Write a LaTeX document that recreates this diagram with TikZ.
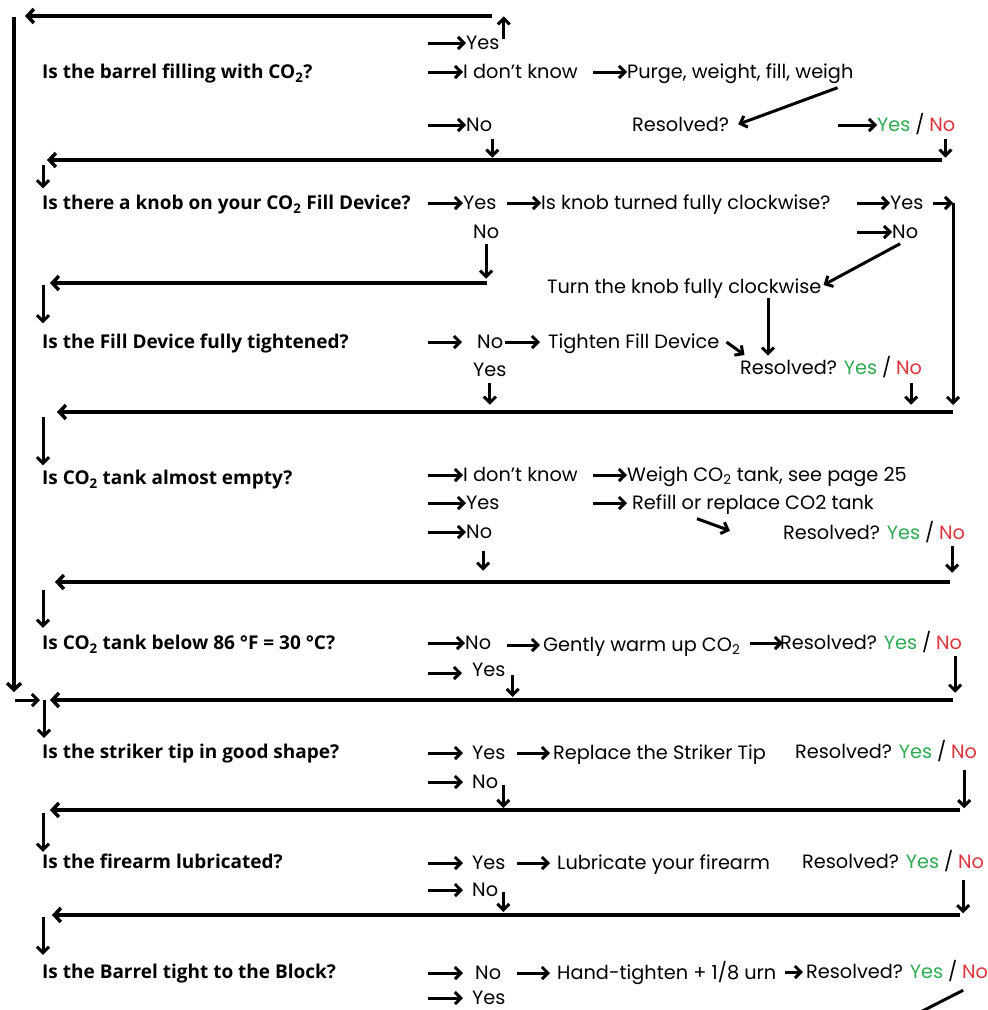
\documentclass[tikz,border=0pt]{standalone}
\usepackage{fontspec}
\setmainfont{Poppins}
\newfontfamily\qfont{Open Sans}
\usetikzlibrary{arrows.meta}
\definecolor{yesgreen}{RGB}{46,170,84}
\definecolor{nored}{RGB}{222,52,62}
\newcommand{\yn}{\textcolor{yesgreen}{Yes}\hspace{0.25em}/\hspace{0.25em}\textcolor{nored}{No}}
\newcommand{\COtwo}{CO\textsubscript{2}}
\tikzset{
  quest/.style={font=\qfont\bfseries\fontsize{19}{21}\selectfont, anchor=west, inner sep=0pt, text height=13pt, text depth=0pt},
  answer/.style={font=\fontsize{19.3}{21}\selectfont, anchor=west, inner sep=0pt, text height=13pt, text depth=0pt},
  arr/.style={line width=3pt, -{Straight Barb[length=6pt,width=12pt]}},
  backline/.style={line width=3.5pt, -{Straight Barb[length=6.5pt,width=14pt]}}
}
\begin{document}
\begin{tikzpicture}[x=1pt,y=-1pt]
\useasboundingbox (0,0) rectangle (988,1010);

% barrel filling
\node (q1) [quest] at (42,72) {Is the barrel filling with \COtwo?};
\node (q1yes) [answer] at (466,43) {Yes};
\node (q1idk) [answer] at (463,72) {I don’t know};
\node (q1no) [answer] at (466,125) {No};
\node (purge) [answer] at (627,72) {Purge, weight, fill, weigh};
\node (res1) [answer] at (632,125) {Resolved?};
\node (yn1) [answer] at (877,125) {\yn};
\coordinate (top) at (492,16);
\coordinate (topend) at (25,16);
\coordinate (lefttop) at (14,17);
\coordinate (leftbot) at (14,692);
\draw[backline] (top) -- (topend);
\draw[backline] (lefttop) -- (leftbot);
\draw[arr] ([xshift=-38pt]q1yes.west) -- (q1yes.west);
\draw[arr] ([xshift=-35pt]q1idk.west) -- (q1idk.west);
\draw[arr] ([xshift=-38pt]q1no.west) -- (q1no.west);
\draw[arr] ([xshift=4pt,yshift=-3pt]q1yes.north east) -- ++(0,-23);
\draw[arr] ([xshift=-34pt]purge.west) -- (purge.west);
\draw[arr] ([xshift=-16pt,yshift=-9pt]purge.south east) -- ([xshift=9pt,yshift=-6pt]res1.north east);
\draw[arr] ([xshift=-39pt]yn1.west) -- (yn1.west);
\draw[arr] ([yshift=-7pt]q1no.south east) -- ++(0,19);
\draw[arr] ([xshift=-10pt,yshift=-7pt]yn1.south east) -- ++(0,19);
\coordinate (back1r) at (942,160);
\coordinate (back1l) at (47,160);
\draw[backline] (back1r) -- (back1l);

% knob
\node (q2) [quest] at (42,203) {Is there a knob on your \COtwo{} Fill Device?};
\node (q2yes) [answer] at (463,203) {Yes};
\node (q2no) [answer] at (473,232) {No};
\node (knob) [answer] at (541,203) {Is knob turned fully clockwise?};
\node (knobyes) [answer] at (890,203) {Yes};
\node (knobno) [answer] at (892,232) {No};
\node (turn) [answer] at (547,287) {Turn the knob fully clockwise};
\coordinate (rightdrop) at (953,203);
\draw[arr] ([xshift=1pt,yshift=31pt]q2.north west) -- ++(0,23);
\draw[arr] ([xshift=-35pt]q2yes.west) -- (q2yes.west);
\draw[arr] ([xshift=-34pt]knob.west) -- (knob.west);
\draw[arr] ([xshift=-33pt]knobyes.west) -- (knobyes.west);
\draw[arr] ([xshift=-35pt]knobno.west) -- (knobno.west);
\draw[arr] ([xshift=-20pt]rightdrop) -- (rightdrop);
\draw[arr] (rightdrop) -- ++(0,202);
\draw[arr] ([yshift=-5pt]q2no.south) -- ++(0,35);
\draw[arr] ([xshift=-5pt,yshift=-5pt]knobno.south) -- ([xshift=2pt,yshift=2pt]turn.east);
\draw[arr] ([xshift=221pt,yshift=-4pt]turn.south west) -- ++(0,58);
\coordinate (back2r) at (487,283);
\coordinate (back2l) at (50,283);
\draw[backline] (back2r) -- (back2l);

% fill device
\node (q3) [quest] at (42,342) {Is the Fill Device fully tightened?};
\node (q3no) [answer] at (477,342) {No};
\node (q3yes) [answer] at (473,370) {Yes};
\node (tighten) [answer] at (548,342) {Tighten Fill Device};
\node (res3) [answer] at (740,368) {Resolved? \yn};
\draw[arr] ([xshift=1pt,yshift=50pt]q3.north west) -- ++(0,38);
\draw[arr] ([xshift=-49pt]q3no.west) -- ([xshift=-15pt]q3no.west);
\draw[arr] ([xshift=-43pt]tighten.west) -- ([xshift=-8pt]tighten.west);
\draw[arr] ([xshift=7pt]tighten.east) -- ++(18,13);
\draw[arr] ([yshift=-6pt]q3yes.south) -- ++(0,22);
\draw[arr] ([xshift=-11pt,yshift=-8pt]res3.south east) -- ++(0,22);
\coordinate (back3r) at (953,412);
\coordinate (back3l) at (57,412);
\draw[backline] (back3r) -- (back3l);

% tank empty
\node (q4) [quest] at (42,478) {Is \COtwo{} tank almost empty?};
\node (q4idk) [answer] at (463,475) {I don’t know};
\node (q4yes) [answer] at (466,503) {Yes};
\node (q4no) [answer] at (466,532) {No};
\node (weigh) [answer] at (627,475) {Weigh \COtwo{} tank, see page 25};
\node (refill) [answer] at (632,503) {Refill or replace CO2 tank};
\node (res4) [answer] at (783,533) {Resolved? \yn};
\draw[arr] ([xshift=1pt,yshift=54pt]q4.north west) -- ++(0,48);
\draw[arr] ([xshift=-35pt]q4idk.west) -- (q4idk.west);
\draw[arr] ([xshift=-38pt]q4yes.west) -- (q4yes.west);
\draw[arr] ([xshift=-38pt]q4no.west) -- (q4no.west);
\draw[arr] ([xshift=-34pt]weigh.west) -- (weigh.west);
\draw[arr] ([xshift=-39pt]refill.west) -- ([xshift=-5pt]refill.west);
\draw[arr] ([xshift=65pt,yshift=-9pt]refill.south west) -- ++(33,12);
\draw[arr] ([xshift=4pt,yshift=-12pt]q4no.south) -- ++(0,20);
\draw[arr] ([xshift=-13pt,yshift=-6pt]res4.south east) -- ++(0,27);
\coordinate (back4r) at (950,582);
\coordinate (back4l) at (55,582);
\draw[backline] (back4r) -- (back4l);

% tank temperature
\node (q5) [quest] at (42,643) {Is \COtwo{} tank below 86 °F = 30 °C?};
\node (q5no) [answer] at (465,643) {No};
\node (q5yes) [answer] at (472,670) {Yes};
\node (warm) [answer] at (543,645) {Gently warm up \COtwo};
\node (res5) [answer] at (780,643) {Resolved? \yn};
\draw[arr] ([xshift=1pt,yshift=46.5pt]q5.north west) -- ++(0,38);
\draw[arr] ([xshift=-37pt]q5no.west) -- (q5no.west);
\draw[arr] ([xshift=-44pt,yshift=-3pt]q5yes.west) -- ([xshift=-10pt,yshift=-3pt]q5yes.west);
\draw[arr] ([xshift=-36pt]warm.west) -- ([xshift=-3pt]warm.west);
\draw[arr] ([xshift=-30pt]res5.west) -- ([xshift=3pt]res5.west);
\draw[arr] ([xshift=7pt,yshift=-5pt]q5yes.east) -- ++(0,22);
\draw[arr] ([xshift=-7pt,yshift=-6pt]res5.south east) -- ++(0,37);
\coordinate (back5r) at (953,700);
\coordinate (back5l) at (50,700);
\coordinate (join) at (40,700);
\draw[backline] (back5r) -- (back5l);
\draw[arr] ([xshift=-25pt]join) -- (join);

% striker tip
\node (q6) [quest] at (42,752) {Is the striker tip in good shape?};
\node (q6yes) [answer] at (472,753) {Yes};
\node (q6no) [answer] at (472,782) {No};
\node (striker) [answer] at (553,753) {Replace the Striker Tip};
\node (res6) [answer] at (795,752) {Resolved? \yn};
\draw[arr] ([xshift=2pt,yshift=45.5pt]q6.north west) -- ++(0,38);
\draw[arr] ([xshift=-44pt]q6yes.west) -- ([xshift=-9pt]q6yes.west);
\draw[arr] ([xshift=-44pt]q6no.west) -- ([xshift=-9pt]q6no.west);
\draw[arr] ([xshift=-36pt]striker.west) -- ([xshift=-3pt]striker.west);
\draw[arr] ([xshift=5pt,yshift=-3pt]q6no.east) -- ++(0,23);
\draw[arr] ([xshift=-13pt,yshift=-11.5pt]res6.south east) -- ++(0,38);
\coordinate (back6r) at (960,810);
\coordinate (back6l) at (50,810);
\draw[backline] (back6r) -- (back6l);

% lubrication
\node (q7) [quest] at (42,862) {Is the firearm lubricated?};
\node (q7yes) [answer] at (472,863) {Yes};
\node (q7no) [answer] at (472,890) {No};
\node (lube) [answer] at (557,863) {Lubricate your firearm};
\node (res7) [answer] at (802,862) {Resolved? \yn};
\draw[arr] ([xshift=1pt,yshift=42.5pt]q7.north west) -- ++(0,39);
\draw[arr] ([xshift=-44pt]q7yes.west) -- ([xshift=-9pt]q7yes.west);
\draw[arr] ([xshift=-44pt]q7no.west) -- ([xshift=-9pt]q7no.west);
\draw[arr] ([xshift=-40pt]lube.west) -- ([xshift=-7pt]lube.west);
\draw[arr] ([xshift=5pt,yshift=-2pt]q7no.east) -- ++(0,20);
\draw[arr] ([xshift=-21pt,yshift=-11.5pt]res7.south east) -- ++(0,33);
\coordinate (back7r) at (960,915);
\coordinate (back7l) at (52,915);
\draw[backline] (back7r) -- (back7l);

% barrel to block
\node (q8) [quest] at (42,972) {Is the Barrel tight to the Block?};
\node (q8no) [answer] at (475,973) {No};
\node (q8yes) [answer] at (472,998) {Yes};
\node (hand) [answer] at (557,973) {Hand-tighten + 1/8 urn};
\node (res8) [answer] at (806,972) {Resolved? \yn};
\draw[arr] ([xshift=1pt,yshift=48.5pt]q8.north west) -- ++(0,38);
\draw[arr] ([xshift=-47pt]q8no.west) -- ([xshift=-12pt]q8no.west);
\draw[arr] ([xshift=-44pt]q8yes.west) -- ([xshift=-9pt]q8yes.west);
\draw[arr] ([xshift=-40pt]hand.west) -- ([xshift=-7pt]hand.west);
\draw[arr] ([xshift=-21pt]res8.west) -- ([xshift=-3pt]res8.west);
\draw[line width=3pt] ([xshift=-25pt,yshift=-11.5pt]res8.south east) -- ++(-45,23);
\end{tikzpicture}
\end{document}
